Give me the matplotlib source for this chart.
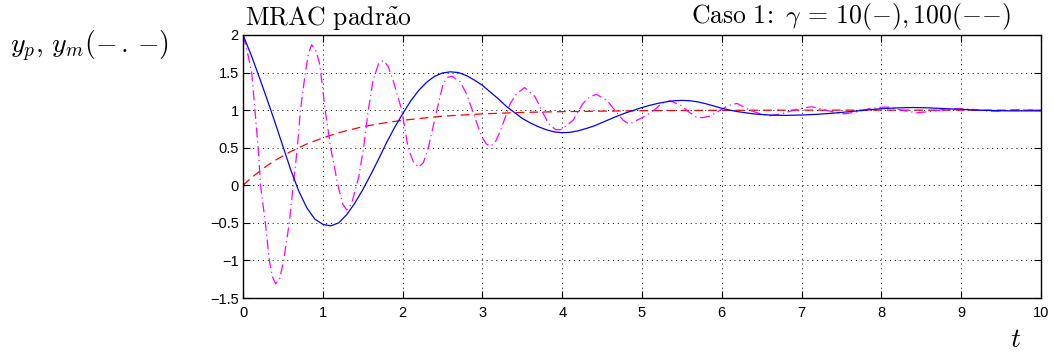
import matplotlib
matplotlib.use("Agg")
import matplotlib.pyplot as plt

plt.rcParams['mathtext.fontset'] = 'cm'
plt.rcParams['font.family'] = ['Liberation Sans', 'DejaVu Sans']

# gamma = 10 (blue, solid)
t_b = [0, 0.1, 0.2, 0.3, 0.4, 0.5, 0.6, 0.7, 0.8, 0.9, 1.0, 1.1, 1.2, 1.3, 1.4,
       1.5, 1.6, 1.7, 1.8, 1.9, 2.0, 2.1, 2.2, 2.3, 2.4, 2.5, 2.6, 2.7, 2.8, 2.9,
       3.0, 3.1, 3.2, 3.3, 3.4, 3.5, 3.6, 3.7, 3.8, 3.9, 4.0, 4.1, 4.2, 4.3, 4.4,
       4.5, 4.6, 4.7, 4.8, 4.9, 5.0, 5.1, 5.2, 5.3, 5.4, 5.5, 5.6, 5.7, 5.8, 5.9,
       6.0, 6.1, 6.2, 6.4, 6.6, 6.8, 7.0, 7.2, 7.4, 7.6, 7.8, 8.0, 8.2, 8.4, 8.6,
       8.8, 9.0, 9.2, 9.4, 9.6, 9.8, 10.0]
y_b = [2.0, 1.74, 1.45, 1.15, 0.84, 0.52, 0.20, -0.08, -0.30, -0.45, -0.52, -0.54,
       -0.50, -0.39, -0.24, -0.06, 0.14, 0.35, 0.57, 0.77, 0.95, 1.12, 1.26, 1.37,
       1.45, 1.495, 1.51, 1.50, 1.46, 1.40, 1.33, 1.24, 1.15, 1.05, 0.97, 0.89,
       0.83, 0.78, 0.74, 0.71, 0.70, 0.705, 0.725, 0.755, 0.79, 0.835, 0.88, 0.925,
       0.965, 1.00, 1.035, 1.065, 1.09, 1.11, 1.125, 1.13, 1.125, 1.11, 1.085,
       1.055, 1.025, 1.00, 0.98, 0.95, 0.935, 0.93, 0.935, 0.945, 0.96, 0.98, 1.00,
       1.02, 1.03, 1.035, 1.03, 1.02, 1.01, 1.00, 0.995, 0.99, 0.99, 0.99]

# gamma = 100 (magenta, dash-dot)
t_m = [0, 0.05, 0.11, 0.15, 0.19, 0.22, 0.28, 0.33, 0.37, 0.41, 0.46, 0.51, 0.58,
       0.63, 0.68, 0.72, 0.78, 0.82, 0.86, 0.91, 0.96, 1.03, 1.10, 1.19, 1.25,
       1.30, 1.36, 1.45, 1.51, 1.57, 1.63, 1.70, 1.76, 1.82, 1.88, 1.99, 2.07,
       2.14, 2.20, 2.26, 2.32, 2.43, 2.51, 2.57, 2.62, 2.72, 2.80, 2.91, 2.99,
       3.05, 3.10, 3.16, 3.22, 3.35, 3.43, 3.53, 3.66, 3.76, 3.83, 3.92, 3.98,
       4.06, 4.14, 4.26, 4.35, 4.43, 4.56, 4.66, 4.76, 4.83, 4.89, 5.02, 5.14,
       5.25, 5.35, 5.48, 5.58, 5.68, 5.76, 5.85, 5.98, 6.08, 6.19, 6.35, 6.48,
       6.60, 6.75, 6.90, 7.02, 7.13, 7.30, 7.42, 7.54, 7.70, 7.85, 8.00, 8.10,
       8.25, 8.44, 8.60, 8.80, 9.00, 9.15, 9.30, 9.45, 9.60, 9.75, 9.90, 10.0]
y_m = [2.0, 1.8, 1.49, 1.0, 0.49, 0.0, -0.5, -1.0, -1.22, -1.31, -1.24, -1.0, -0.5,
       0.0, 0.49, 1.0, 1.49, 1.75, 1.87, 1.80, 1.62, 1.0, 0.49, 0.0, -0.25,
       -0.33, -0.25, 0.11, 0.49, 1.0, 1.40, 1.62, 1.66, 1.58, 1.40, 1.0, 0.49,
       0.30, 0.24, 0.30, 0.49, 1.0, 1.36, 1.44, 1.45, 1.38, 1.22, 0.89, 0.65,
       0.55, 0.52, 0.57, 0.71, 1.09, 1.22, 1.30, 1.18, 0.96, 0.82, 0.74, 0.74,
       0.80, 0.87, 1.09, 1.18, 1.21, 1.13, 1.0, 0.87, 0.82, 0.84, 0.91, 0.99,
       1.09, 1.125, 1.07, 0.98, 0.91, 0.90, 0.92, 1.0, 1.06, 1.09, 1.0, 0.95,
       0.925, 0.95, 1.0, 1.03, 1.045, 1.0, 0.97, 0.95, 0.98, 1.02, 1.04, 1.04,
       1.0, 0.965, 0.98, 1.01, 1.02, 1.01, 0.99, 0.985, 1.0, 1.01, 1.0, 1.0]

# reference model ym (red, dashed)
t_r = [0, 0.1, 0.2, 0.3, 0.4, 0.5, 0.6, 0.8, 1.0, 1.2, 1.5, 1.8, 2.0, 2.5, 3.0,
       3.5, 4.0, 5.0, 6.0, 7.0, 8.0, 9.0, 10.0]
y_r = [0, 0.095, 0.18, 0.26, 0.33, 0.39, 0.45, 0.55, 0.63, 0.70, 0.78, 0.835,
       0.865, 0.92, 0.95, 0.97, 0.98, 0.993, 0.998, 1.0, 1.0, 1.0, 1.0]

x_ticks = [0, 1, 2, 3, 4, 5, 6, 7, 8, 9, 10]
y_ticks = [-1.5, -1, -0.5, 0, 0.5, 1, 1.5, 2]
y_ticklabels = ['\u22121.5', '\u22121', '\u22120.5', '0', '0.5', '1', '1.5', '2']

fig = plt.figure(figsize=(10.54, 3.53), dpi=100)
ax = fig.add_axes([243/1054, 1 - 298/353, 798/1054, 263/353])

ax.plot(t_r, y_r, color=(1, 0, 0), lw=0.9, dashes=(7, 4))
ax.plot(t_m, y_m, color=(1, 0, 1), lw=0.9, dashes=(8, 3, 1, 3))
ax.plot(t_b, y_b, color=(0, 0, 1), lw=0.9)

ax.set_xlim(0, 10)
ax.set_ylim(-1.5, 2)
ax.set_xticks(x_ticks)
ax.set_yticks(y_ticks)
ax.set_yticklabels(y_ticklabels)
ax.tick_params(direction='in', top=True, right=True, length=5, width=0.8,
               labelsize=10.5)
ax.tick_params(axis='x', pad=6)
ax.tick_params(axis='y', pad=3)
ax.grid(True, color='black', linestyle=(0, (1, 4)), linewidth=0.7)
for s in ax.spines.values():
    s.set_linewidth(1.0)

ax.text(0.002, 1.012, r'$\mathrm{MRAC\ padr\tilde{a}o}$', transform=ax.transAxes,
        ha='left', va='bottom', fontsize=18.5)
ax.text(0.962, 1.012, r'$\mathrm{Caso\ 1\!:}\ \gamma\,=\,10(-),100({-}{-})$',
        transform=ax.transAxes, ha='right', va='bottom', fontsize=18.5)
fig.text(10/1054, 1 - 53/353, r'$y_p,\,y_m({-}\,.\,{-})$', ha='left',
         va='baseline', fontsize=20)
fig.text(1016/1054, 1 - 347/353, r'$t$', ha='center', va='baseline', fontsize=20)

fig.savefig('out.png', dpi=100)
